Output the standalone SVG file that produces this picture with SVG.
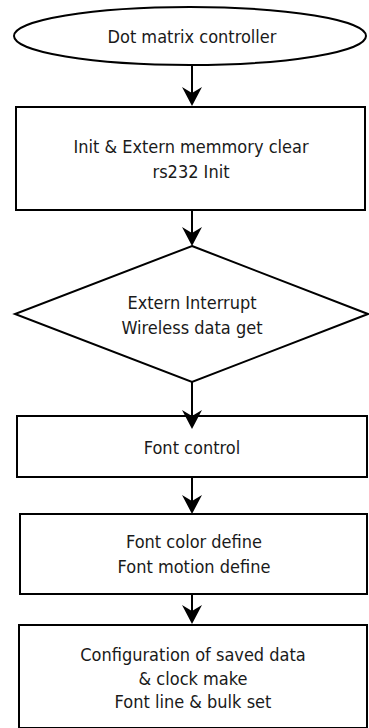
<svg xmlns="http://www.w3.org/2000/svg" width="369" height="728" viewBox="0 0 369 728">
<style>
.s{fill:#fff;stroke:#000;stroke-width:2}
.c{fill:none;stroke:#000;stroke-width:2}
text{font-family:"DejaVu Sans Condensed","DejaVu Sans",sans-serif;font-size:18px;fill:#1a1a1a;text-anchor:middle}
</style>
<defs>
<marker id="ah" markerUnits="userSpaceOnUse" viewBox="0 0 19 20" markerWidth="19" markerHeight="20" refX="6" refY="10" orient="auto">
<path d="M0,0 L19,10 L0,20 L6,10 Z" fill="#000"/>
</marker>
</defs>
<rect width="369" height="728" fill="#fff"/>
<g id="n1"><ellipse class="s" cx="190" cy="36" rx="176" ry="29"/><text x="192" y="43">Dot matrix controller</text></g>
<g id="n2"><rect class="s" x="16" y="107" width="349" height="103"/><text x="191" y="153">Init &amp; Extern memmory clear</text><text x="191" y="178">rs232 Init</text></g>
<g id="n3"><polygon class="s" points="192,246 368,314 192,382 15,314"/><text x="192" y="309">Extern Interrupt</text><text x="192" y="334">Wireless data get</text></g>
<g id="n4"><rect class="s" x="17" y="416" width="350" height="61"/><text x="192" y="454">Font control</text></g>
<g id="n5"><rect class="s" x="20" y="514" width="347" height="80"/><text x="194" y="548">Font color define</text><text x="194" y="573">Font motion define</text></g>
<g id="n6"><rect class="s" x="19" y="625" width="348" height="103"/><text x="193" y="661">Configuration of saved data</text><text x="193" y="685">&amp; clock make</text><text x="193" y="708">Font line &amp; bulk set</text></g>
<g id="connectors">
<line class="c" x1="192" y1="65" x2="192" y2="93" marker-end="url(#ah)"/>
<line class="c" x1="192" y1="210" x2="192" y2="233" marker-end="url(#ah)"/>
<line class="c" x1="192" y1="382" x2="192" y2="416" marker-end="url(#ah)"/>
<line class="c" x1="192" y1="477" x2="192" y2="501" marker-end="url(#ah)"/>
<line class="c" x1="192" y1="594" x2="192" y2="611" marker-end="url(#ah)"/>
</g>
</svg>
